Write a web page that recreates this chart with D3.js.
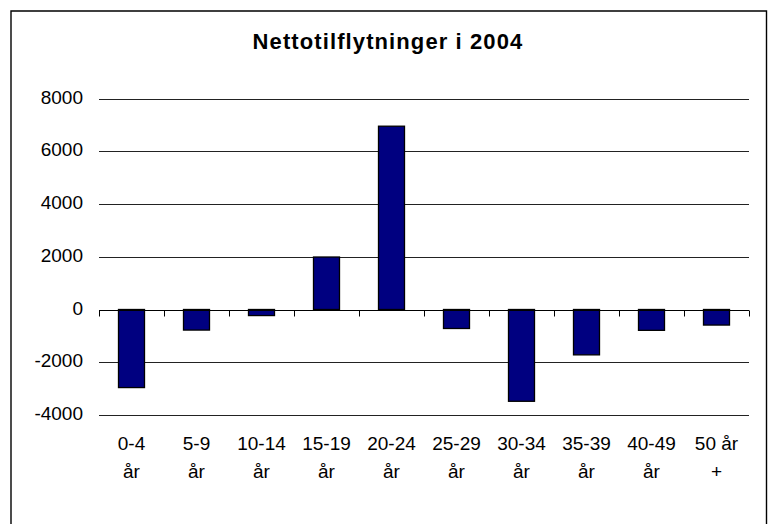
<!DOCTYPE html>
<html>
<head>
<meta charset="utf-8">
<script src="https://cdn.jsdelivr.net/npm/d3@7"></script>
<style>
  html, body { margin: 0; padding: 0; background: #fff; }
  svg { display: block; font-family: "Liberation Sans", Arial, sans-serif; }
</style>
</head>
<body>
<div id="chart"></div>
<script>
  // values
  const chartTitle = 'Nettotilflytninger i 2004';
  const categories = ['0-4 år', '5-9 år', '10-14 år', '15-19 år', '20-24 år', '25-29 år', '30-34 år', '35-39 år', '40-49 år', '50 år +'];
  const values = [-2960, -780, -230, 1990, 6950, -720, -3480, -1720, -790, -590];
  const yTicks = [-4000, -2000, 0, 2000, 4000, 6000, 8000];

  const width = 776, height = 524;
  const plot = { left: 99, right: 749, top: 98.5, bottom: 415 };

  const svg = d3.select('#chart').append('svg')
    .attr('width', width)
    .attr('height', height);

  // outer frame (bottom edge runs off the picture)
  svg.append('path')
    .attr('d', `M11,${height + 5}V11H766.5V${height + 5}`)
    .attr('fill', 'none')
    .attr('stroke', '#000')
    .attr('stroke-width', 1.4);

  svg.append('text')
    .attr('x', 388)
    .attr('y', 49)
    .attr('text-anchor', 'middle')
    .style('font-size', '22px')
    .style('font-weight', 'bold')
    .style('letter-spacing', '1.1px')
    .text(chartTitle);

  const x = d3.scaleBand()
    .domain(categories)
    .range([plot.left, plot.right])
    .paddingInner(0.6)
    .paddingOuter(0.3);

  const y = d3.scaleLinear()
    .domain([-4000, 8000])
    .range([plot.bottom, plot.top]);

  // gridlines
  svg.append('g')
    .selectAll('line')
    .data(yTicks.filter(d => d !== 0))
    .join('line')
    .attr('x1', plot.left)
    .attr('x2', plot.right)
    .attr('y1', d => Math.round(y(d)) + 0.5)
    .attr('y2', d => Math.round(y(d)) + 0.5)
    .attr('stroke', '#222')
    .attr('stroke-width', 1);

  // y labels
  svg.append('g')
    .selectAll('text')
    .data(yTicks)
    .join('text')
    .attr('x', plot.left - 16)
    .attr('y', d => y(d) + 5)
    .attr('text-anchor', 'end')
    .style('font-size', '19px')
    .text(d => d);

  // bars
  svg.append('g')
    .selectAll('rect')
    .data(values)
    .join('rect')
    .attr('x', (d, i) => x(categories[i]))
    .attr('width', x.bandwidth())
    .attr('y', d => y(Math.max(0, d)))
    .attr('height', d => Math.abs(y(d) - y(0)))
    .attr('fill', '#000080')
    .attr('stroke', '#000')
    .attr('stroke-width', 1.3);

  // zero axis with tick marks between categories
  const zeroY = Math.round(y(0)) + 0.5;
  const axis = svg.append('g').attr('stroke', '#000');
  axis.append('line')
    .attr('x1', plot.left).attr('x2', plot.right)
    .attr('y1', zeroY).attr('y2', zeroY);
  axis.selectAll('line.tick')
    .data(d3.range(categories.length + 1))
    .join('line')
    .attr('class', 'tick')
    .attr('x1', i => Math.round(plot.left + i * x.step()) + 0.5)
    .attr('x2', i => Math.round(plot.left + i * x.step()) + 0.5)
    .attr('y1', zeroY)
    .attr('y2', zeroY + 6);

  // category labels, wrapped onto two lines
  const labels = svg.append('g')
    .selectAll('text')
    .data(categories)
    .join('text')
    .attr('text-anchor', 'middle')
    .style('font-size', '19px');
  labels.each(function (d) {
    const cut = d.lastIndexOf(' ');
    const lines = [d.slice(0, cut), d.slice(cut + 1)];
    const cx = x(d) + x.bandwidth() / 2;
    d3.select(this).selectAll('tspan')
      .data(lines)
      .join('tspan')
      .attr('x', cx)
      .attr('y', (l, j) => 450 + j * 28.3)
      .text(l => l);
  });
</script>
</body>
</html>
